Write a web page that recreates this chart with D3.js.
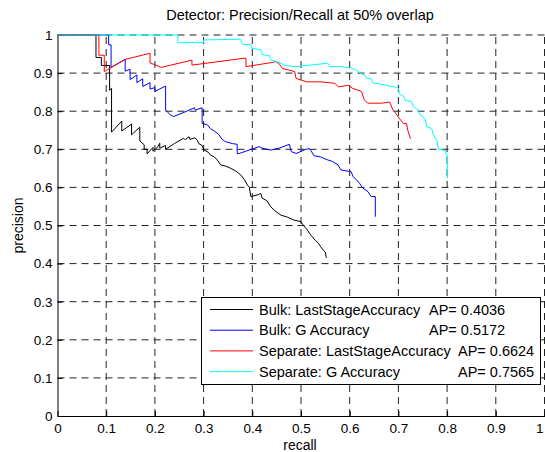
<!DOCTYPE html>
<html>
<head>
<meta charset="utf-8">
<script src="https://d3js.org/d3.v7.min.js"></script>
<style>
  body { margin: 0; background: #fff; }
  svg { display: block; font-family: "Liberation Sans", Arial, Helvetica, sans-serif; }
</style>
</head>
<body>
<svg id="chart" width="545" height="452"></svg>
<script>
// recall / precision pairs
const bulkLast = [
  [0,1],[0.079,1],[0.079,0.941],[0.09,0.941],[0.09,0.92],[0.107,0.92],[0.107,0.855],[0.111,0.86],[0.111,0.745],
  [0.132,0.774],[0.132,0.748],[0.152,0.766],[0.152,0.738],[0.169,0.758],[0.169,0.722],[0.178,0.712],[0.178,0.70],
  [0.184,0.70],[0.184,0.688],[0.196,0.705],[0.196,0.695],[0.205,0.705],[0.21,0.716],[0.21,0.703],[0.222,0.71],
  [0.222,0.70],[0.24,0.715],[0.259,0.729],[0.262,0.725],[0.27,0.733],[0.272,0.726],[0.282,0.73],[0.287,0.724],
  [0.29,0.715],[0.297,0.71],[0.301,0.698],[0.31,0.692],[0.314,0.685],[0.322,0.68],[0.328,0.672],[0.335,0.659],
  [0.345,0.656],[0.356,0.65],[0.366,0.643],[0.376,0.633],[0.384,0.62],[0.39,0.606],[0.394,0.6],[0.397,0.576],
  [0.41,0.58],[0.4175,0.584],[0.42,0.572],[0.43,0.565],[0.438,0.549],[0.445,0.54],[0.459,0.527],[0.47,0.523],
  [0.486,0.514],[0.5,0.51],[0.505,0.5],[0.512,0.49],[0.52,0.475],[0.53,0.46],[0.535,0.455],[0.54,0.445],
  [0.546,0.435],[0.55,0.43],[0.552,0.415]
];
const bulkG = [
  [0,1],[0.105,1],[0.105,0.974],[0.11,0.974],[0.11,0.915],[0.139,0.936],[0.139,0.905],[0.149,0.91],[0.149,0.883],
  [0.163,0.895],[0.163,0.875],[0.175,0.885],[0.175,0.865],[0.19,0.875],[0.19,0.858],[0.2,0.862],[0.2,0.852],
  [0.222,0.866],[0.222,0.803],[0.232,0.79],[0.238,0.786],[0.26,0.797],[0.281,0.809],[0.283,0.803],[0.297,0.809],
  [0.297,0.768],[0.308,0.764],[0.314,0.754],[0.321,0.749],[0.331,0.739],[0.338,0.726],[0.345,0.72],[0.359,0.715],
  [0.369,0.713],[0.369,0.689],[0.373,0.689],[0.414,0.707],[0.42,0.703],[0.438,0.698],[0.455,0.703],[0.476,0.713],
  [0.48,0.694],[0.49,0.689],[0.51,0.7],[0.517,0.702],[0.52,0.697],[0.527,0.683],[0.54,0.68],[0.555,0.672],
  [0.565,0.668],[0.576,0.659],[0.582,0.646],[0.603,0.641],[0.607,0.628],[0.614,0.62],[0.62,0.611],[0.627,0.598],
  [0.6375,0.589],[0.644,0.576],[0.6526,0.576],[0.6526,0.523]
];
const sepLast = [
  [0,1],[0.085,1],[0.085,0.947],[0.096,0.947],[0.096,0.904],[0.139,0.936],[0.19,0.952],[0.19,0.927],[0.213,0.915],
  [0.276,0.934],[0.276,0.921],[0.383,0.939],[0.387,0.939],[0.387,0.917],[0.4416,0.928],[0.4476,0.93],[0.455,0.925],
  [0.462,0.912],[0.475,0.908],[0.487,0.904],[0.49,0.886],[0.512,0.877],[0.541,0.877],[0.5695,0.873],[0.577,0.864],
  [0.598,0.868],[0.606,0.86],[0.624,0.852],[0.63,0.83],[0.637,0.821],[0.665,0.821],[0.682,0.824],[0.689,0.803],
  [0.694,0.795],[0.699,0.786],[0.71,0.768],[0.7165,0.768],[0.72,0.747],[0.725,0.728]
];
const sepG = [
  [0,1],[0.247,1],[0.247,0.98],[0.3,0.98],[0.3,0.987],[0.376,0.989],[0.38,0.976],[0.397,0.974],[0.4,0.965],
  [0.4175,0.961],[0.421,0.948],[0.435,0.946],[0.438,0.935],[0.459,0.926],[0.466,0.92],[0.49,0.917],[0.555,0.926],
  [0.5586,0.917],[0.5827,0.917],[0.603,0.913],[0.6134,0.908],[0.6237,0.899],[0.6306,0.895],[0.634,0.887],
  [0.644,0.885],[0.648,0.874],[0.6684,0.87],[0.682,0.866],[0.6993,0.862],[0.703,0.844],[0.7101,0.84],[0.7136,0.829],
  [0.727,0.825],[0.7307,0.812],[0.741,0.803],[0.7444,0.79],[0.755,0.781],[0.758,0.759],[0.7683,0.755],[0.7717,0.738],
  [0.779,0.724],[0.782,0.7],[0.7957,0.697],[0.799,0.685],[0.801,0.685],[0.801,0.624]
];

const seriesNames = ["Bulk: LastStageAccuracy", "Bulk: G Accuracy", "Separate: LastStageAccuracy", "Separate: G Accuracy"];
const apValues = ["AP= 0.4036", "AP= 0.5172", "AP= 0.6624", "AP= 0.7565"];
const seriesColors = ["#000000", "#0000ff", "#ff0000", "#00ffff"];
const xTicks = [0, 0.1, 0.2, 0.3, 0.4, 0.5, 0.6, 0.7, 0.8, 0.9, 1];
const yTicks = [0, 0.1, 0.2, 0.3, 0.4, 0.5, 0.6, 0.7, 0.8, 0.9, 1];

const allSeries = [bulkLast, bulkG, sepLast, sepG];

const svg = d3.select('#chart');
const x = d3.scaleLinear().domain([0, 1]).range([57.5, 544.5]);
const y = d3.scaleLinear().domain([0, 1]).range([416, 35]);

// grid
const grid = svg.append('g').attr('stroke', '#222').attr('stroke-width', 1).attr('stroke-dasharray', '7,5');
grid.selectAll('.gx').data(xTicks.filter(d => d > 0)).enter().append('line')
  .attr('x1', d => x(d)).attr('x2', d => x(d)).attr('y1', y(0)).attr('y2', y(1));
grid.selectAll('.gy').data(yTicks.filter(d => d > 0)).enter().append('line')
  .attr('y1', d => y(d)).attr('y2', d => y(d)).attr('x1', x(0)).attr('x2', x(1));

// axes
const fmt = d3.format('~g');
const xAxis = svg.append('g').attr('transform', `translate(0,${y(0)})`)
  .call(d3.axisBottom(x).tickValues(xTicks).tickFormat(fmt).tickSizeInner(-5).tickSizeOuter(0).tickPadding(7));
const yAxis = svg.append('g').attr('transform', `translate(${x(0)},0)`)
  .call(d3.axisLeft(y).tickValues(yTicks).tickFormat(fmt).tickSizeInner(-5).tickSizeOuter(0).tickPadding(5));
[xAxis, yAxis].forEach(a => {
  a.selectAll('text').attr('font-size', 13.5).attr('fill', '#000').attr('font-family', '"Liberation Sans", Arial, sans-serif');
  a.selectAll('line, path').attr('stroke', '#000');
});
// last x label sits at the window edge: keep it inside
xAxis.selectAll('.tick text').filter(d => d === 1).attr('text-anchor', 'end').attr('dx', -1.5);

// curves
const line = d3.line().x(d => x(d[0])).y(d => y(d[1]));
svg.append('g').selectAll('path').data(allSeries).enter().append('path')
  .attr('d', line)
  .attr('fill', 'none')
  .attr('stroke', (d, i) => seriesColors[i])
  .attr('stroke-width', 1);

// labels
svg.append('text').attr('x', 300).attr('y', 20).attr('text-anchor', 'middle')
  .attr('font-size', 14.5).text('Detector: Precision/Recall at 50% overlap');
svg.append('text').attr('x', 300).attr('y', 450).attr('text-anchor', 'middle')
  .attr('font-size', 14).text('recall');
svg.append('text').attr('transform', `translate(23,${(y(0) + y(1)) / 2}) rotate(-90)`).attr('text-anchor', 'middle')
  .attr('font-size', 14).text('precision');

// legend
const legend = svg.append('g');
legend.append('rect').attr('x', 201.5).attr('y', 297.5).attr('width', 339).attr('height', 87)
  .attr('fill', '#fff').attr('stroke', '#000').attr('stroke-width', 1);
const apX = [429, 429, 458, 458];
const rows = legend.selectAll('.row').data(seriesNames).enter().append('g')
  .attr('transform', (d, i) => `translate(0,${309.5 + i * 20.7})`);
rows.append('line').attr('x1', 210).attr('x2', 253).attr('y1', 0).attr('y2', 0)
  .attr('stroke', (d, i) => seriesColors[i]).attr('stroke-width', 1);
rows.append('text').attr('x', 259).attr('dy', '0.35em').attr('font-size', 14.5).text(d => d);
rows.append('text').attr('x', (d, i) => apX[i]).attr('dy', '0.35em').attr('font-size', 14.5).text((d, i) => apValues[i]);
</script>
</body>
</html>
